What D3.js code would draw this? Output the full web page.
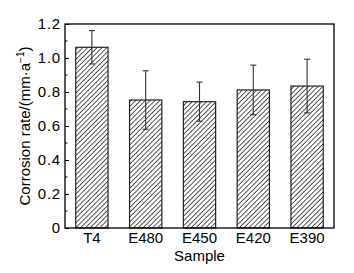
<!DOCTYPE html>
<html><head><meta charset="utf-8">
<script src="https://cdn.jsdelivr.net/npm/d3@7"></script>
<style>html,body{margin:0;padding:0;background:#fff;}svg{display:block;font-family:Arial,"Liberation Sans",sans-serif;}</style>
</head><body><svg id="c" width="354" height="273"></svg>
<script>
const categories = ["T4","E480","E450","E420","E390"];
const values = [1.063, 0.753, 0.743, 0.812, 0.835];
const errors = [0.098, 0.172, 0.115, 0.146, 0.158];
const yTicks = [0, 0.2, 0.4, 0.6, 0.8, 1.0, 1.2];
const yTickLabels = ["0","0.2","0.4","0.6","0.8","1.0","1.2"];

const svg = d3.select("#c");
const m = {l:65, r:334, t:24, b:228};
const x = d3.scaleBand().domain(categories).range([m.l, m.r]).paddingInner(0.4).paddingOuter(0.2);
const y = d3.scaleLinear().domain([0,1.2]).range([m.b, m.t]);

const defs = svg.append("defs");
const pat = defs.append("pattern").attr("id","hatch").attr("patternUnits","userSpaceOnUse")
  .attr("width",3.4).attr("height",3.4).attr("patternTransform","rotate(45)");
pat.append("rect").attr("width",3.4).attr("height",3.4).attr("fill","#fff");
pat.append("line").attr("x1",0).attr("y1",0).attr("x2",0).attr("y2",3.4).attr("stroke","#111").attr("stroke-width",1.4);

const data = categories.map((c,i)=>({c, v:values[i], e:errors[i]}));

svg.selectAll("rect.bar").data(data).join("rect").attr("class","bar")
  .attr("x",d=>x(d.c)).attr("width",x.bandwidth())
  .attr("y",d=>y(d.v)).attr("height",d=>y(0)-y(d.v))
  .attr("fill","url(#hatch)").attr("stroke","#222").attr("stroke-width",1.2);

const eb = svg.selectAll("g.err").data(data).join("g").attr("class","err").attr("stroke","#333").attr("stroke-width",1.1);
eb.append("line").attr("x1",d=>x(d.c)+x.bandwidth()/2).attr("x2",d=>x(d.c)+x.bandwidth()/2)
  .attr("y1",d=>y(d.v+d.e)).attr("y2",d=>y(d.v-d.e));
eb.append("line").attr("x1",d=>x(d.c)+x.bandwidth()/2-3).attr("x2",d=>x(d.c)+x.bandwidth()/2+3)
  .attr("y1",d=>y(d.v+d.e)).attr("y2",d=>y(d.v+d.e));
eb.append("line").attr("x1",d=>x(d.c)+x.bandwidth()/2-3).attr("x2",d=>x(d.c)+x.bandwidth()/2+3)
  .attr("y1",d=>y(d.v-d.e)).attr("y2",d=>y(d.v-d.e));

// frame
svg.append("rect").attr("x",m.l).attr("y",m.t).attr("width",m.r-m.l).attr("height",m.b-m.t)
  .attr("fill","none").attr("stroke","#000").attr("stroke-width",1.3);

// y axis
const yAxis = d3.axisLeft(y).tickValues(yTicks).tickFormat((d,i)=>yTickLabels[i]).tickSizeInner(-4).tickSizeOuter(0).tickPadding(4);
const ga = svg.append("g").attr("transform",`translate(${m.l},0)`).call(yAxis);
ga.select(".domain").remove();
ga.selectAll("line").attr("stroke","#000");
ga.selectAll("text").attr("font-size",15).attr("fill","#000").attr("letter-spacing",0.8);
const minor = d3.range(0.1,1.2,0.2);
svg.selectAll("line.minor").data(minor).join("line").attr("class","minor")
  .attr("x1",m.l).attr("x2",m.l+2.5).attr("y1",d=>y(d)).attr("y2",d=>y(d)).attr("stroke","#000");

// x axis
const xAxis = d3.axisBottom(x).tickSize(0).tickPadding(4);
const gx = svg.append("g").attr("transform",`translate(0,${m.b})`).call(xAxis);
gx.select(".domain").remove();
gx.selectAll("text").attr("font-size",15).attr("fill","#000");

svg.append("text").attr("x",(m.l+m.r)/2).attr("y",261).attr("text-anchor","middle").attr("font-size",15).text("Sample");
const yl = svg.append("text").attr("transform",`translate(30,${(m.t+m.b)/2}) rotate(-90)`).attr("text-anchor","middle").attr("font-size",15);
yl.append("tspan").text("Corrosion rate/(mm·a");
yl.append("tspan").attr("font-size",10).attr("dy",-6).text("−1");
yl.append("tspan").attr("dy",6).text(")");
</script></body></html>
